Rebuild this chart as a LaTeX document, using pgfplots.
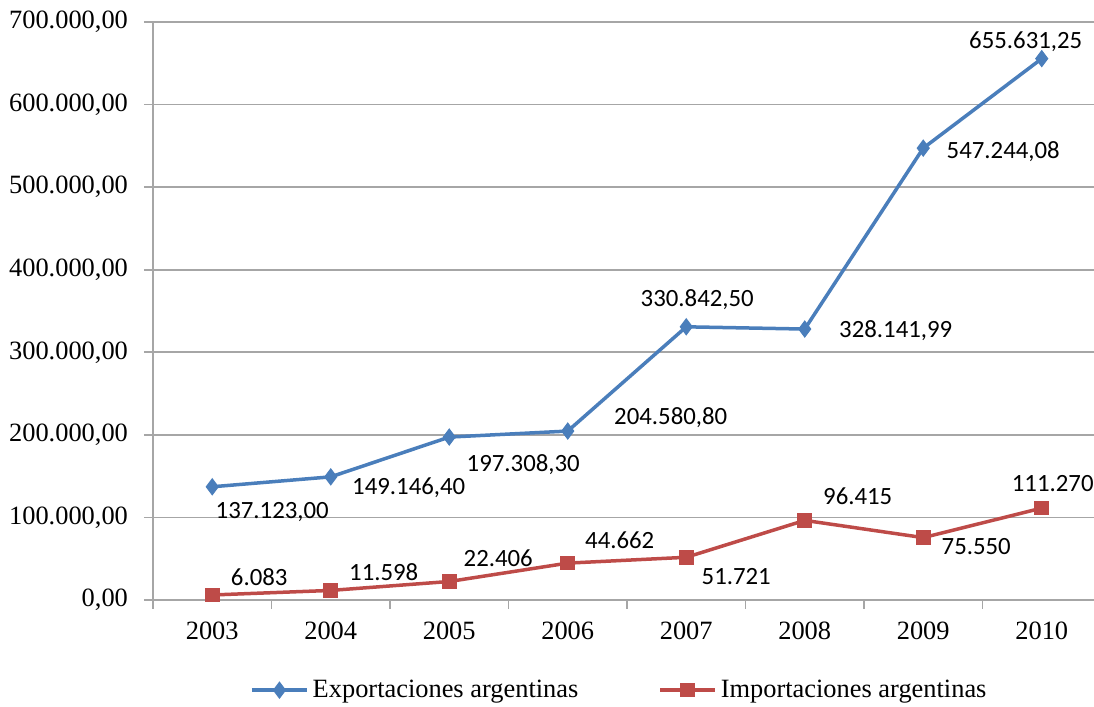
\documentclass[border=0pt]{standalone}
\usepackage{pgfplots}
\usepackage{pgfplotstable}
\pgfplotsset{compat=1.18}
\usepackage{fontspec}
\setmainfont{Liberation Serif}
\newfontfamily\calibri{Carlito}

\definecolor{expblue}{HTML}{4A7EBB}
\definecolor{impred}{HTML}{BE4B48}
\definecolor{gridgray}{HTML}{A6A6A6}

% x  y  label  dx(pt)  dy(pt)  -- label offsets relative to the point
\pgfplotstableread{
x y lbl dx dy
0 137123.00 137.123,00 30 -12.5
1 149146.40 149.146,40 39 -5.5
2 197308.30 197.308,30 37 -14
3 204580.80 204.580,80 51.5 6.5
4 330842.50 330.842,50 5.5 13.5
5 328141.99 328.141,99 45.5 -1
6 547244.08 547.244,08 40 -1.5
7 655631.25 655.631,25 -8 8.5
}\expo

\pgfplotstableread{
x y lbl dx dy
0 6083 6.083 23.5 9
1 11598 11.598 26.5 9
2 22406 22.406 24.5 11.5
3 44662 44.662 26 11.5
4 51721 51.721 25 -9.5
5 96415 96.415 26.5 12
6 75550 75.550 26.5 -4.5
7 111270 111.270 5.5 12.5
}\impo

\begin{document}
\begin{tikzpicture}
\begin{axis}[
  scale only axis,
  width=474pt, height=289pt,
  xmin=-0.5, xmax=7.5,
  ymin=0, ymax=700000,
  axis x line=bottom, axis y line=left,
  axis line style={draw=gridgray, line width=0.8pt, -},
  tick align=outside,
  major tick length=4.5pt,
  tick style={draw=gridgray, line width=0.8pt},
  xtick={-0.5,0.5,...,7.5},
  xticklabels={2003,2004,2005,2006,2007,2008,2009,2010},
  x tick label as interval=true,
  scaled y ticks=false,
  ytick={0,100000,...,700000},
  yticklabels={{0,00},{100.000,00},{200.000,00},{300.000,00},{400.000,00},{500.000,00},{600.000,00},{700.000,00}},
  ymajorgrids,
  grid style={draw=gridgray, line width=0.8pt},
  tick label style={font=\fontsize{13.2}{15}\selectfont, text=black},
  yticklabel style={xshift=-4.5pt},
  xticklabel style={yshift=-3pt},
  title={en miles de US\$},
  title style={at={(0.404,1.025)}, anchor=base, font=\fontsize{13}{15}\selectfont\bfseries},
  legend columns=2,
  legend style={at={(0.493,-0.156)}, anchor=center, draw=none,
    font=\fontsize{13.2}{15}\selectfont,
    /tikz/every even column/.append style={column sep=38pt}},
  legend image code/.code={\draw[mark repeat=2,mark phase=2] plot coordinates {(0pt,0pt)(13.75pt,0pt)(27.5pt,0pt)};},
  point meta=explicit symbolic,
  nodes near coords,
  visualization depends on={\thisrow{dx} \as \ldx},
  visualization depends on={\thisrow{dy} \as \ldy},
  every node near coord/.append style={anchor=center, xshift=\ldx pt, yshift=\ldy pt,
    font=\calibri\fontsize{12.4}{14}\selectfont, text=black, inner sep=0pt},
]
\addplot[expblue, line width=1.75pt, mark=diamond*, mark size=4pt,
  mark options={fill=expblue, draw=expblue, line width=0.5pt}]
  table[x=x, y=y, meta=lbl] {\expo};
\addlegendentry{Exportaciones argentinas}
\addplot[impred, line width=1.75pt, mark=square*, mark size=3.4pt,
  mark options={fill=impred, draw=impred, line width=0.5pt}]
  table[x=x, y=y, meta=lbl] {\impo};
\addlegendentry{Importaciones argentinas}
\end{axis}
\pgfresetboundingbox
\path[use as bounding box] (-76.5pt,-53.5pt) rectangle (470.5pt,300pt);
\end{tikzpicture}
\end{document}
